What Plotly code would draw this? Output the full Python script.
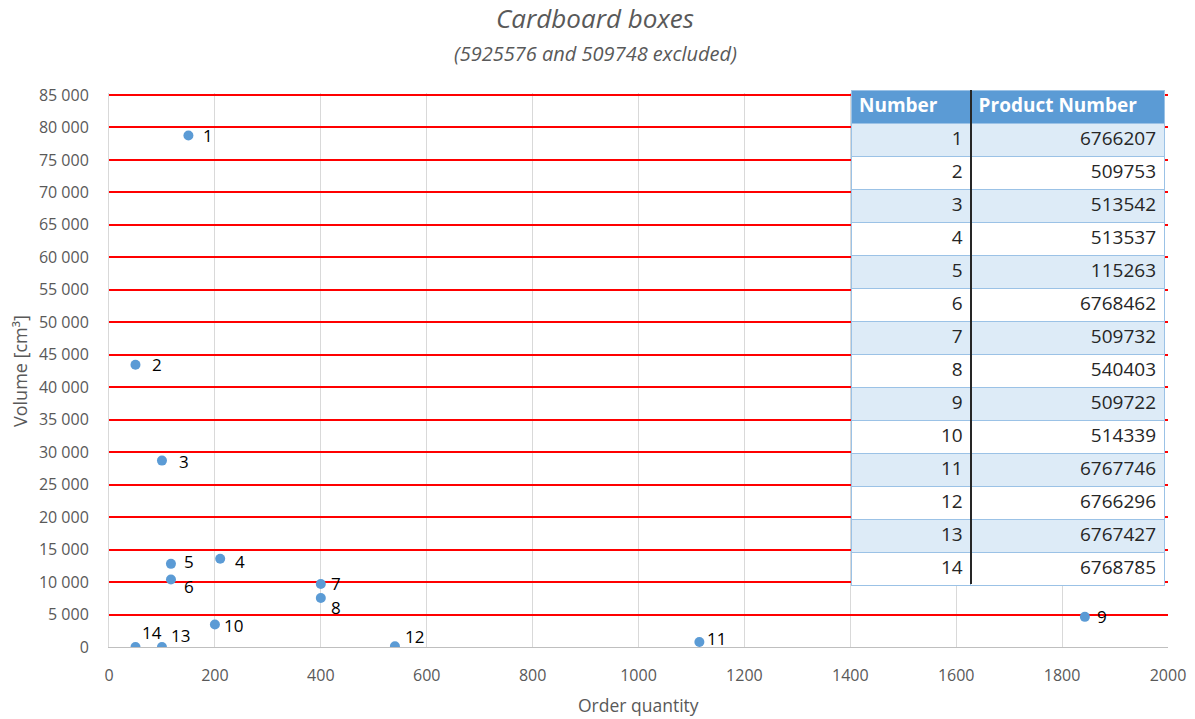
import plotly.graph_objects as go

# Boxes plotted: order quantity vs. box volume
box_number = [1, 2, 3, 4, 5, 6, 7, 8, 9, 10, 11, 12, 13, 14]
order_qty = [150, 50, 100, 210, 117, 117, 400, 400, 1843, 200, 1115, 540, 100, 50]
volume_cm3 = [78750, 43450, 28700, 13600, 12800, 10400, 9700, 7550, 4640, 3460, 770, 120, 0, 0]
product_number = ["6766207", "509753", "513542", "513537", "115263", "6768462", "509732",
                  "540403", "509722", "514339", "6767746", "6766296", "6767427", "6768785"]

x_ticks = list(range(0, 2001, 200))
y_ticks = list(range(0, 85001, 5000))

# label offsets in px (right, down) so numbers sit clear of their dots
label_dx = [20, 22, 22, 20, 18, 18, 15, 15, 17, 19, 17, 20, 19, 17]
label_dy = [0, 0, 1, 3, -2, 7, -1, 10, 0, 1, -4, -10, -12, -15]

FONT = "Open Sans"
GREY = "#595959"
BLUE = "#5B9BD5"

W, H = 1195, 719
M_L, M_R, M_T, M_B = 109, 27, 90, 72
plot_h = H - M_T - M_B
plot_w = W - M_L - M_R
# a little headroom above the top tick so its gridline is not clipped
Y_PAD = 1.003
y_top_frac = (H - M_B - 95) * Y_PAD / plot_h

fig = go.Figure()

fig.add_trace(go.Scatter(
    x=order_qty, y=volume_cm3, mode="markers",
    marker=dict(color=BLUE, size=10),
    hoverinfo="skip", showlegend=False,
))

# lookup table of product numbers, placed over the right part of the plot
row_fill = ["#DDEBF7" if i % 2 == 0 else "#FFFFFF" for i in range(len(box_number))]
fig.add_trace(go.Table(
    domain=dict(x=[(851 - M_L) / plot_w, (1165 - M_L) / plot_w],
                y=[(H - M_B - 586) / plot_h, 1.0]),
    columnwidth=[120, 194],
    header=dict(values=["Number", "Product Number"],
                fill_color=BLUE, align="left", height=33,
                line=dict(color="#9BC2E6", width=1),
                font=dict(family=FONT, size=19, color="white", weight="bold")),
    cells=dict(values=[box_number, product_number],
               fill_color=[row_fill, row_fill], align="right", height=33,
               line=dict(color="#9BC2E6", width=1),
               font=dict(family=FONT, size=19, color="#262626")),
))

# thick divider between the two table columns
div_x = (971 - M_L) / plot_w
fig.add_shape(type="line", xref="paper", yref="paper",
              x0=div_x, x1=div_x, y0=(H - M_B - 584) / plot_h, y1=1.0,
              line=dict(color="#262626", width=2), layer="above")

# gridline at the top tick (plotly skips grid lines right at the axis edge)
fig.add_hline(y=y_ticks[-1], line=dict(color="#FF0000", width=1.5), layer="below")

annotations = []
for n, xv, yv, dx, dy in zip(box_number, order_qty, volume_cm3, label_dx, label_dy):
    annotations.append(dict(
        x=xv, y=yv, xref="x", yref="y", text=str(n), showarrow=False,
        xanchor="center", yanchor="middle", xshift=dx, yshift=-dy,
        font=dict(family=FONT, size=17, color="#000000"),
    ))

title_x = (595 - M_L) / plot_w
annotations += [
    dict(text="<i>Cardboard boxes</i>", xref="paper", yref="paper", x=title_x, y=1,
         xanchor="center", yanchor="middle", yshift=72, showarrow=False,
         font=dict(family=FONT, size=26, color=GREY)),
    dict(text="<i>(5925576 and 509748 excluded)</i>", xref="paper", yref="paper",
         x=title_x, y=1, xanchor="center", yanchor="middle", yshift=37, showarrow=False,
         font=dict(family=FONT, size=20, color=GREY)),
    dict(text="Order quantity", xref="paper", yref="paper", x=0.5, y=0,
         xanchor="center", yanchor="middle", yshift=-58, showarrow=False,
         font=dict(family=FONT, size=17.5, color=GREY)),
    dict(text="Volume [cm³]", xref="paper", yref="paper", x=0,
         y=(H - M_B - 371) / plot_h, xanchor="center", yanchor="middle", xshift=-89,
         textangle=-90, showarrow=False,
         font=dict(family=FONT, size=18, color=GREY)),
]

fig.update_layout(
    width=W, height=H,
    margin=dict(l=M_L, r=M_R, t=M_T, b=M_B, autoexpand=False),
    paper_bgcolor="white", plot_bgcolor="white",
    separators=", ",
    annotations=annotations,
    font=dict(family=FONT, color=GREY),
)

fig.update_xaxes(
    range=[0, 2000], tickvals=x_ticks, showgrid=True, gridcolor="#D9D9D9", gridwidth=1,
    showline=True, linecolor="#BFBFBF", linewidth=1, zeroline=False,
    ticks="", ticklabelstandoff=14, tickfont=dict(family=FONT, size=16, color=GREY),
)
fig.update_yaxes(
    range=[0, y_ticks[-1] * Y_PAD], tickvals=y_ticks, domain=[0, y_top_frac],
    showgrid=True, gridcolor="#FF0000", gridwidth=1.5,
    zeroline=True, zerolinecolor="#BFBFBF", zerolinewidth=1,
    showline=True, linecolor="#D9D9D9", linewidth=1,
    separatethousands=True, tickformat=",d",
    ticks="", ticklabelstandoff=16, tickfont=dict(family=FONT, size=16, color=GREY),
)

fig.write_html("out.html")
